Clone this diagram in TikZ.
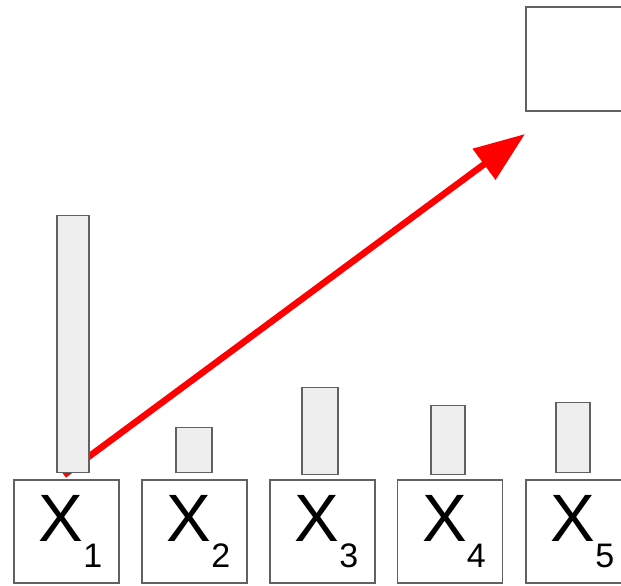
\documentclass[tikz,border=0pt]{standalone}
\usepackage{fontspec}
\setmainfont{Liberation Sans}
\usetikzlibrary{arrows.meta}
\definecolor{edgegray}{HTML}{616161}
\definecolor{barfill}{HTML}{EEEEEE}
\definecolor{arrowred}{HTML}{FF0000}
\newcommand{\xlab}[1]{\hspace*{8pt}\fontsize{67pt}{67pt}\selectfont X\raisebox{-26pt}{\fontsize{34pt}{34pt}\selectfont #1}}
\tikzset{
  cell/.style={draw=edgegray, line width=1.3pt, fill=white, minimum width=105pt, minimum height=103pt, inner sep=0pt, text=black},
  bar/.style={draw=edgegray, line width=1.5pt, fill=barfill, anchor=south, inner sep=0pt, minimum width=33pt},
  redarrow/.style={draw=arrowred, line width=6.5pt, -{Triangle[length=51pt,width=37pt]}}
}
\begin{document}
\begin{tikzpicture}[x=1pt,y=-1pt]
\useasboundingbox (0,0) rectangle (621,586);
% output box
\node[cell, minimum height=104pt] (out) at (578.5,59) {};
% input boxes
\node[cell] (b1) at (66.5,531.5) {\xlab{1}};
\node[cell] (b2) at (194.5,531.5) {\xlab{2}};
\node[cell] (b3) at (322.5,531.5) {\xlab{3}};
\node[cell] (b4) at (450,531.5) {\xlab{4}};
\node[cell] (b5) at (578.5,531.5) {\xlab{5}};
% arrow
\coordinate (tail) at (64,475);
\coordinate (tip) at (525,134);
\draw[redarrow] (tail) -- (tip);
% bars
\node[bar, minimum width=32pt, minimum height=257pt] (h1) at (73,473) {};
\node[bar, minimum width=36pt, minimum height=45pt] (h2) at (194,473) {};
\node[bar, minimum width=36pt, minimum height=87pt] (h3) at (320,475) {};
\node[bar, minimum width=34pt, minimum height=69pt] (h4) at (448,475) {};
\node[bar, minimum width=34pt, minimum height=70pt] (h5) at (573,473) {};
\end{tikzpicture}
\end{document}
